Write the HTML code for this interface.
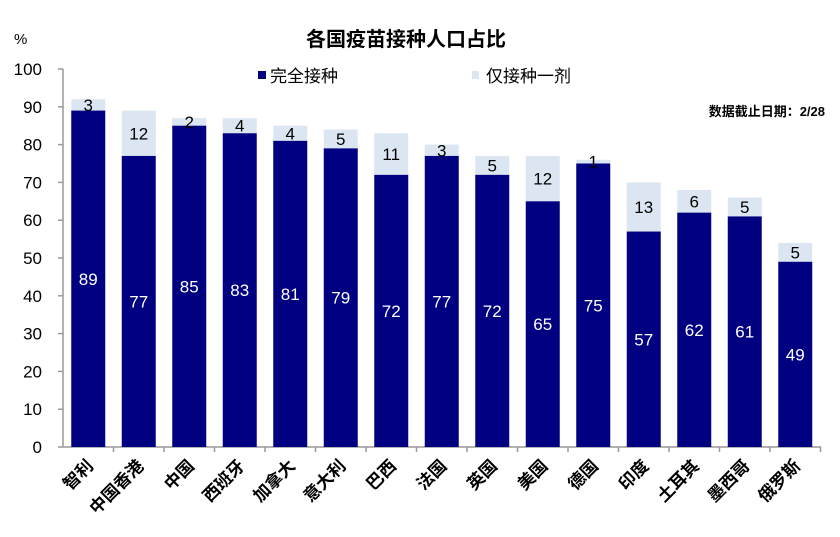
<!DOCTYPE html>
<html><head><meta charset="utf-8"><style>
body{margin:0;background:#fff}
svg{display:block}
text{font-family:"Liberation Sans","Noto Sans CJK SC",sans-serif}
</style></head><body>
<svg width="840" height="537" viewBox="0 0 840 537" xmlns="http://www.w3.org/2000/svg">
<text x="406" y="46" text-anchor="middle" font-size="20" font-weight="bold" fill="#000">各国疫苗接种人口占比</text>
<text x="14" y="44" font-size="15" fill="#000">%</text>
<rect x="258" y="71" width="8" height="8" fill="#000080"/>
<text x="270" y="82" font-size="17" fill="#000">完全接种</text>
<rect x="472" y="71" width="7" height="8" fill="#dce6f2"/>
<text x="486" y="82" font-size="17" fill="#000">仅接种一剂</text>
<text x="825" y="116" text-anchor="end" font-size="13" font-weight="bold" fill="#000">数据截止日期：2/28</text>
<line x1="63" y1="69" x2="63" y2="447" stroke="#999" stroke-width="1.5"/>
<line x1="63" y1="447" x2="821" y2="447" stroke="#999" stroke-width="1.5"/>
<script>
var d=[["智利",89,3],["中国香港",77,12],["中国",85,2],["西班牙",83,4],["加拿大",81,4],["意大利",79,5],["巴西",72,11],["法国",77,3],["英国",72,5],["美国",65,12],["德国",75,1],["印度",57,13],["土耳其",62,6],["墨西哥",61,5],["俄罗斯",49,5]];
var ns="http://www.w3.org/2000/svg",svg=document.querySelector("svg");
function el(t,a,txt){var e=document.createElementNS(ns,t);for(var k in a)e.setAttribute(k,a[k]);if(txt!=null)e.textContent=txt;svg.appendChild(e);return e;}
function Y(v){return 447-3.78*v;}
for(var v=0;v<=100;v+=10){el("text",{x:42,y:Y(v)+6,"font-size":17,"text-anchor":"end",fill:"#000"},v);el("line",{x1:58,y1:Y(v),x2:63,y2:Y(v),stroke:"#999","stroke-width":1.5});}
d.forEach(function(r,i){var cx=63+50.5*(i+0.5);var f=r[1],p=r[2];
el("rect",{x:cx-17,y:Y(f+p),width:34,height:3.78*p,fill:"#dce6f2"});
el("rect",{x:cx-17,y:Y(f),width:34,height:3.78*f,fill:"#000080"});
el("text",{x:cx,y:(Y(f)+447)/2+6,"font-size":17,"text-anchor":"middle",fill:"#fff"},f);
el("text",{x:cx,y:(Y(f)+Y(f+p))/2+6,"font-size":17,"text-anchor":"middle",fill:"#000"},p);
el("line",{x1:63+50.5*(i+1),y1:447,x2:63+50.5*(i+1),y2:452,stroke:"#999","stroke-width":1.5});
el("text",{x:cx+6,y:467,"font-size":17,"font-weight":"bold","text-anchor":"end",fill:"#000",transform:"rotate(-45 "+(cx+6)+" 467)"},r[0]);
});
</script>
</svg>
</body></html>
